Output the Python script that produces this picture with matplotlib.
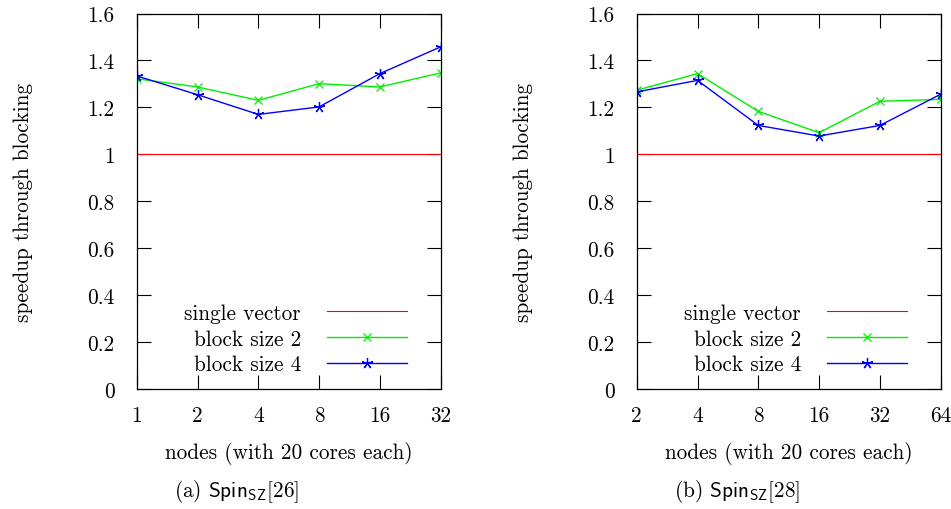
import numpy as np
import matplotlib
matplotlib.use('Agg')
import matplotlib.pyplot as plt

plt.rcParams['font.family'] = 'serif'
plt.rcParams['font.serif'] = ['cmr10']
plt.rcParams['mathtext.fontset'] = 'cm'
plt.rcParams['axes.formatter.use_mathtext'] = True

# left panel: Spin_SZ[26]
nodes_a = [1, 2, 4, 8, 16, 32]
block2_a = [1.322, 1.287, 1.230, 1.301, 1.287, 1.347]
block4_a = [1.334, 1.254, 1.170, 1.202, 1.344, 1.458]

# right panel: Spin_SZ[28]
nodes_b = [2, 4, 8, 16, 32, 64]
block2_b = [1.273, 1.344, 1.183, 1.092, 1.226, 1.234]
block4_b = [1.266, 1.315, 1.123, 1.078, 1.123, 1.256]

yticks = [0, 0.2, 0.4, 0.6, 0.8, 1.0, 1.2, 1.4, 1.6]
ylabels = ['0', '0.2', '0.4', '0.6', '0.8', '1', '1.2', '1.4', '1.6']

captions = [r'(a) $\mathsf{Spin}_{\mathsf{SZ}}[26]$', r'(b) $\mathsf{Spin}_{\mathsf{SZ}}[28]$']

fs = 15.3
fig = plt.figure(figsize=(9.51, 5.10), dpi=100)
W, H = 951, 510
star = (5, 2, 0)

panels = [(nodes_a, block2_a, block4_a, 136.7), (nodes_b, block2_b, block4_b, 636.7)]
for i, (nodes, b2, b4, x0) in enumerate(panels):
    ax = fig.add_axes([x0 / W, 120 / H, 304 / W, 375.5 / H])
    ax.plot(nodes, [1] * len(nodes), color='red', lw=0.8, label='single vector')
    ax.plot(nodes, b2, color='#00ee00', lw=1.0, marker='x', ms=6, mew=0.9, label='block size 2')
    ax.plot(nodes, b4, color='blue', lw=1.0, marker=star, ms=8, mew=0.9, label='block size 4')
    ax.set_xscale('log', base=2)
    ax.set_xlim(nodes[0], nodes[-1])
    ax.set_ylim(0, 1.6)
    ax.set_xticks(nodes, [str(n) for n in nodes])
    ax.minorticks_off()
    ax.set_yticks(yticks, ylabels)
    ax.tick_params(direction='in', length=10, width=0.8, top=True, right=True,
                   labelsize=fs)
    ax.tick_params(axis='x', pad=12)
    ax.tick_params(axis='y', pad=16)
    for s in ax.spines.values():
        s.set_linewidth(0.9)
    ax.set_xlabel('nodes (with 20 cores each)', fontsize=fs, va='center')
    ax.xaxis.set_label_coords(0.5, -0.168)
    ax.set_ylabel('speedup through blocking', fontsize=fs, va='center')
    ax.yaxis.set_label_coords(-0.372, 0.5)
    leg = ax.legend(loc='lower right', bbox_to_anchor=(0.918, 0.016), frameon=False,
                    markerfirst=False, fontsize=fs, handlelength=3.8,
                    handletextpad=1.2, labelspacing=0.3, borderaxespad=0)
    for t in leg.get_texts():
        t.set_ha('right')
    fig.text((x0 + 100) / W, 1 - 492 / H, captions[i], fontsize=fs,
             ha='center', va='center')

fig.savefig('out.png', dpi=100)
